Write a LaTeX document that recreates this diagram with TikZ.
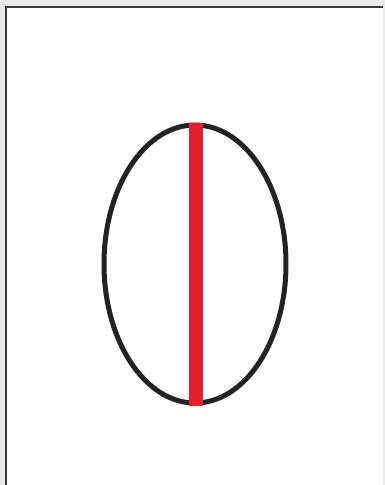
\documentclass[tikz,border=0pt]{standalone}
\usepackage{xcolor}
\usetikzlibrary{shapes.geometric}
\definecolor{framegray}{HTML}{E9E9E9}
\definecolor{framedark}{HTML}{3A3A3A}
\definecolor{inkblack}{HTML}{232323}
\definecolor{inkred}{HTML}{E3202B}

\begin{document}
\begin{tikzpicture}[x=1pt,y=-1pt]
\useasboundingbox (0,0) rectangle (385,485);

% Frame
\fill[framegray] (0,0) rectangle (385,485);
\fill[white] (5,6) rectangle (383,485);
\draw[framedark, line width=2.5pt] (6.2,485) -- (6.2,7.2) -- (383,7.2);

% Outline
\node[ellipse, draw=inkblack, line width=5pt, inner sep=0pt,
      minimum width=182pt, minimum height=278pt] (egg) at (195,264) {};

% Axis
\draw[inkred, line width=14pt] ([xshift=1pt]egg.north) -- ([xshift=1pt]egg.south);

\end{tikzpicture}
\end{document}
